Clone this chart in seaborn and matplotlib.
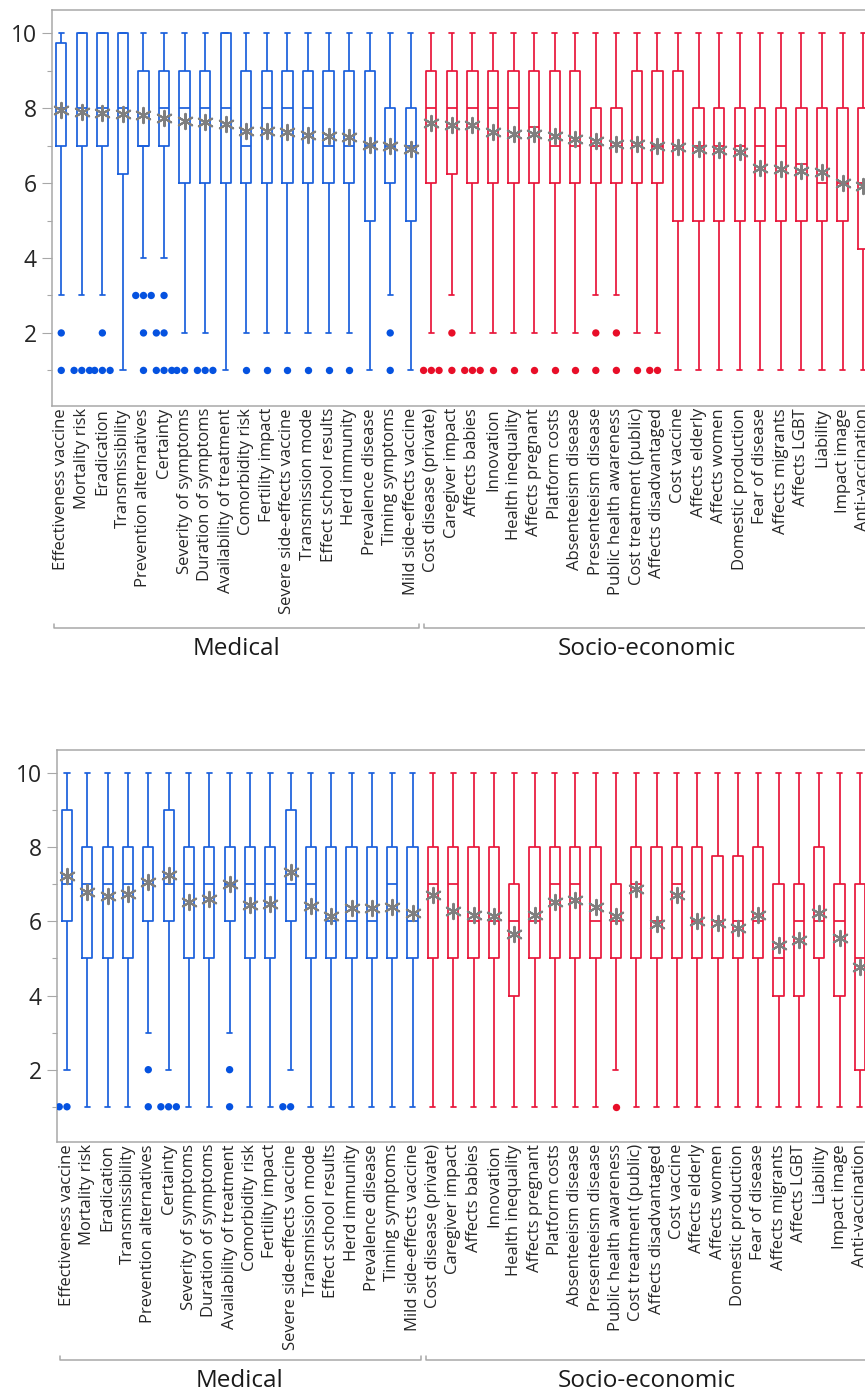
import numpy as np
import pandas as pd
import seaborn as sns
from matplotlib import pyplot as plt
from matplotlib import transforms

MEDICAL = [
    'Effectiveness vaccine', 'Mortality risk', 'Eradication', 'Transmissibility',
    'Prevention alternatives', 'Certainty', 'Severity of symptoms', 'Duration of symptoms',
    'Availability of treatment', 'Comorbidity risk', 'Fertility impact',
    'Severe side-effects vaccine', 'Transmission mode', 'Effect school results',
    'Herd immunity', 'Prevalence disease', 'Timing symptoms', 'Mild side-effects vaccine',
]
SOCIO = [
    'Cost disease (private)', 'Caregiver impact', 'Affects babies', 'Innovation',
    'Health inequality', 'Affects pregnant', 'Platform costs', 'Absenteeism disease',
    'Presenteeism disease', 'Public health awareness', 'Cost treatment (public)',
    'Affects disadvantaged', 'Cost vaccine', 'Affects elderly', 'Affects women',
    'Domestic production', 'Fear of disease', 'Affects migrants', 'Affects LGBT',
    'Liability', 'Impact image', 'Anti-vaccination',
]
ITEMS = MEDICAL + SOCIO
GROUPS = ['Medical'] * len(MEDICAL) + ['Socio-economic'] * len(SOCIO)

# top panel: five-number summaries, means and outlying answers
top_low = [3, 3, 3, 1, 4, 4, 2, 2, 1, 2, 2, 2, 2, 2, 2, 1, 3, 1,
           2, 3, 2, 2, 2, 2, 2, 2, 3, 3, 2, 2, 1, 1, 1, 1, 1, 1, 1, 1, 1, 1]
top_q1 = [7, 7, 7, 6.25, 7, 7, 6, 6, 6, 6, 6, 6, 6, 6, 6, 5, 6, 5,
          6, 6.25, 6, 6, 6, 6, 6, 6, 6, 6, 6, 6, 5, 5, 5, 5, 5, 5, 5, 5, 5, 4.25]
top_median = [8, 8, 8, 8, 7, 8, 8, 8, 8, 7, 8, 8, 8, 7, 7, 7, 7, 7,
              8, 8, 8, 8, 8, 7.5, 7, 7, 7, 7, 7, 7, 7, 7, 7, 7, 7, 7, 6.5, 6, 6, 6]
top_q3 = [9.75, 10, 10, 10, 9, 9, 9, 9, 10, 9, 9, 9, 9, 9, 9, 9, 8, 8,
          9, 9, 9, 9, 9, 9, 9, 9, 8, 8, 9, 9, 9, 8, 8, 8, 8, 8, 8, 8, 8, 8]
top_high = [10] * 40
top_mean = [7.95, 7.91, 7.86, 7.85, 7.82, 7.73, 7.67, 7.62, 7.57, 7.40, 7.40, 7.36,
            7.29, 7.27, 7.22, 7.02, 6.98, 6.91,
            7.60, 7.55, 7.54, 7.36, 7.31, 7.30, 7.26, 7.18, 7.12, 7.05, 7.05, 7.00,
            6.96, 6.91, 6.87, 6.84, 6.41, 6.37, 6.31, 6.29, 6.01, 5.91]
top_outliers = {
    'Effectiveness vaccine': [2, 1],
    'Mortality risk': [1, 1, 1],
    'Eradication': [2, 1, 1, 1],
    'Prevention alternatives': [3, 3, 3, 2, 1],
    'Certainty': [3, 2, 2, 1, 1, 1],
    'Severity of symptoms': [1, 1],
    'Duration of symptoms': [1, 1, 1],
    'Comorbidity risk': [1],
    'Fertility impact': [1],
    'Severe side-effects vaccine': [1],
    'Transmission mode': [1],
    'Effect school results': [1],
    'Herd immunity': [1],
    'Timing symptoms': [2, 1],
    'Cost disease (private)': [1, 1, 1],
    'Caregiver impact': [2, 1],
    'Affects babies': [1, 1, 1],
    'Innovation': [1],
    'Health inequality': [1],
    'Affects pregnant': [1],
    'Platform costs': [1],
    'Absenteeism disease': [1],
    'Presenteeism disease': [2, 1],
    'Public health awareness': [2, 1],
    'Cost treatment (public)': [1],
    'Affects disadvantaged': [1, 1],
}

# bottom panel
bottom_low = [2, 1, 1, 1, 3, 2, 1, 1, 3, 1, 1, 2, 1, 1, 1, 1, 1, 1,
              1, 1, 1, 1, 1, 1, 1, 1, 1, 2, 1, 1, 1, 1, 1, 1, 1, 1, 1, 1, 1, 1]
bottom_q1 = [6, 5, 5, 5, 6, 6, 5, 5, 6, 5, 5, 6, 5, 5, 5, 5, 5, 5,
             5, 5, 5, 5, 4, 5, 5, 5, 5, 5, 5, 5, 5, 5, 5, 5, 5, 4, 4, 5, 4, 2]
bottom_median = [7, 7, 7, 7, 7, 7, 7, 7, 7, 7, 7, 7, 7, 6, 6, 6, 7, 6,
                 7, 7, 6, 6, 6, 6, 7, 7, 6, 6, 7, 6, 7, 6, 6, 6, 6, 5, 6, 6, 6, 5]
bottom_q3 = [9, 8, 8, 8, 8, 9, 8, 8, 8, 8, 8, 9, 8, 8, 8, 8, 8, 8,
             8, 8, 8, 8, 7, 8, 8, 8, 8, 7, 8, 8, 8, 8, 7.75, 7.75, 8, 7, 7, 8, 7, 7]
bottom_high = [10] * 40
bottom_mean = [7.21, 6.80, 6.68, 6.74, 7.07, 7.25, 6.53, 6.61, 7.01, 6.44, 6.46, 7.32,
               6.42, 6.15, 6.35, 6.35, 6.38, 6.23,
               6.70, 6.29, 6.17, 6.15, 5.65, 6.16, 6.52, 6.58, 6.40, 6.15, 6.87, 5.93,
               6.71, 6.01, 5.95, 5.81, 6.17, 5.35, 5.50, 6.22, 5.56, 4.78]
bottom_outliers = {
    'Effectiveness vaccine': [1, 1],
    'Prevention alternatives': [2, 1],
    'Certainty': [1, 1, 1],
    'Availability of treatment': [2, 1],
    'Severe side-effects vaccine': [1, 1],
    'Public health awareness': [1],
}

LINE_COLORS = {'Medical': '#1a5fdc', 'Socio-economic': '#e8163a'}
DOT_COLORS = {'Medical': '#0552e0', 'Socio-economic': '#e80e28'}
GRAY = '#a8a8a8'

FIG_W, FIG_H = 865, 1394


def box_frame(low, q1, median, q3, high):
    rows = []
    for item, group, five in zip(ITEMS, GROUPS, zip(low, q1, median, q3, high)):
        for v in five:
            rows.append((item, group, v))
    return pd.DataFrame(rows, columns=['item', 'group', 'score'])


def outlier_frame(outliers):
    rows = [(item, GROUPS[ITEMS.index(item)], v)
            for item, values in outliers.items() for v in values]
    return pd.DataFrame(rows, columns=['item', 'group', 'score'])


sns.set_style('white')
plt.rcParams['font.family'] = ['Open Sans', 'DejaVu Sans']

fig = plt.figure(figsize=(FIG_W / 100, FIG_H / 100), dpi=100)


def draw_panel(left_px, top_px, bottom_px, xmin, spacing, box_df, mean, out_df, below_px):
    xmax = 40.5
    width_px = (xmax - xmin) * spacing
    height_px = bottom_px - top_px
    ax = fig.add_axes([left_px / FIG_W, 1 - bottom_px / FIG_H, width_px / FIG_W, height_px / FIG_H])

    sns.boxplot(data=box_df, x='item', y='score', hue='group', order=ITEMS,
                hue_order=['Medical', 'Socio-economic'], palette=LINE_COLORS,
                fill=False, whis=(0, 100), width=0.5, linewidth=1.25,
                legend=False, ax=ax)
    sns.swarmplot(data=out_df, x='item', y='score', hue='group', order=ITEMS,
                  hue_order=['Medical', 'Socio-economic'], palette=DOT_COLORS,
                  size=5.3, linewidth=0, legend=False, ax=ax)
    sns.stripplot(x=ITEMS, y=mean, order=ITEMS, jitter=False, marker=(6, 2, 0),
                  size=11, color='#7f7f7f', linewidth=1.5, ax=ax)

    ax.set_xlim(xmin, xmax)
    ax.set_ylim(0.05, 10.62)
    ax.set_xlabel('')
    ax.set_ylabel('')
    ax.set_yticks([2, 4, 6, 8, 10])
    ax.set_yticks([1, 3, 5, 7, 9], minor=True)
    ax.tick_params(axis='y', which='major', length=7, width=0.8, color=GRAY,
                   labelsize=16.5, pad=4, left=True)
    ax.tick_params(axis='y', which='minor', length=3.3, width=0.8, color=GRAY, left=True)
    ax.tick_params(axis='x', length=0, pad=1.5, labelsize=12)
    plt.setp(ax.get_xticklabels(), rotation=90, ha='center', va='top')
    for side in ['left', 'top', 'bottom']:
        ax.spines[side].set_color(GRAY)
        ax.spines[side].set_linewidth(1.1)
    ax.spines['right'].set_visible(False)

    # group brackets under the tick labels
    trans = transforms.blended_transform_factory(ax.transData, ax.transAxes)
    y_br = -below_px / height_px
    y_tick = y_br + 4 / height_px
    y_lab = -(below_px + 21) / height_px
    for name, first, last in [('Medical', 0, len(MEDICAL) - 1),
                              ('Socio-economic', len(MEDICAL), len(ITEMS) - 1)]:
        x0, x1 = first - 0.35, last + 0.4
        ax.plot([x0, x0, x1, x1], [y_tick, y_br, y_br, y_tick], color=GRAY,
                lw=1.1, transform=trans, clip_on=False)
        ax.text((first + last) / 2, y_lab, name, transform=trans, ha='center',
                va='center', fontsize=17.5, color='#1a1a1a')
    return ax


draw_panel(52, 10, 406, -0.45, 20.56,
           box_frame(top_low, top_q1, top_median, top_q3, top_high),
           top_mean, outlier_frame(top_outliers), 222)
draw_panel(57, 750, 1142, -0.49, 20.33,
           box_frame(bottom_low, bottom_q1, bottom_median, bottom_q3, bottom_high),
           bottom_mean, outlier_frame(bottom_outliers), 218)

fig.savefig('out.png', dpi=100)
